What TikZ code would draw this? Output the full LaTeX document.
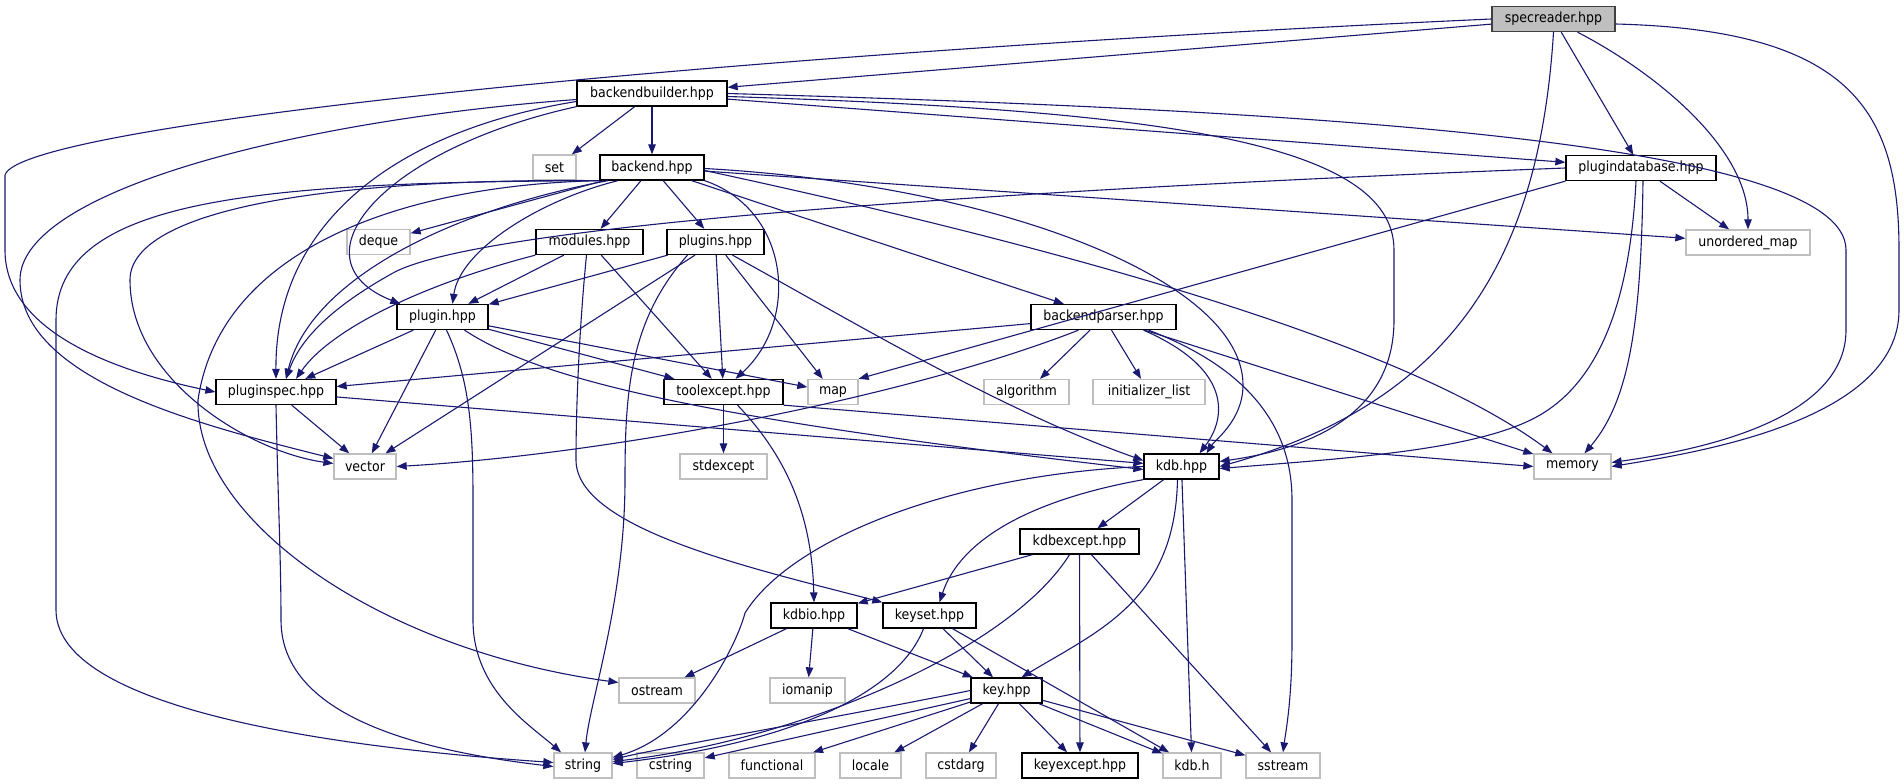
\documentclass[tikz,border=0pt]{standalone}
\usepackage{fontspec}
\setmainfont{DejaVu Sans Condensed}
\usetikzlibrary{arrows.meta}
\definecolor{edgeblue}{HTML}{191970}
\definecolor{extgray}{HTML}{BFBFBF}
\definecolor{rootgray}{HTML}{BFBFBF}
\definecolor{rootline}{HTML}{404040}

\begin{document}
\begin{tikzpicture}[x=1pt,y=-1pt,
    hdrbox/.style={line width=1.3pt, minimum height=25pt, inner sep=0pt,
      font=\fontsize{14}{16}\selectfont},
    docfile/.style={hdrbox, draw=black},
    extfile/.style={hdrbox, draw=extgray},
    rootfile/.style={hdrbox, draw=rootline, fill=rootgray},
    incl/.style={draw=edgeblue, line width=1.1pt,
      -{Triangle[length=10pt,width=7.5pt]}}]
          \useasboundingbox (0,0) rectangle (1904,784);

          % headers, row by row
          \node[rootfile, minimum width=123] (spec) at (1553.5,19) {specreader.hpp};
          \node[docfile, minimum width=150] (bbuild) at (652,93.5) {backendbuilder.hpp};
          \node[extfile, minimum width=43] (set) at (554.5,167.5) {set};
          \node[docfile, minimum width=104] (backend) at (652,167.5) {backend.hpp};
          \node[docfile, minimum width=150] (pdb) at (1641,168) {plugindatabase.hpp};
          \node[extfile, minimum width=63] (deque) at (378.5,242) {deque};
          \node[docfile, minimum width=107] (modules) at (589.5,242) {modules.hpp};
          \node[docfile, minimum width=97] (plugins) at (715.5,242) {plugins.hpp};
          \node[extfile, minimum width=124] (umap) at (1748,242.5) {unordered\_map};
          \node[docfile, minimum width=91] (plugin) at (442.5,317) {plugin.hpp};
          \node[docfile, minimum width=145] (bparser) at (1103.5,317) {backendparser.hpp};
          \node[docfile, minimum width=120] (pspec) at (276,392) {pluginspec.hpp};
          \node[docfile, minimum width=119] (toolex) at (723.5,392) {toolexcept.hpp};
          \node[extfile, minimum width=50] (map) at (833,392) {map};
          \node[extfile, minimum width=85] (algorithm) at (1026.5,392) {algorithm};
          \node[extfile, minimum width=112] (initlist) at (1149,392) {initializer\_list};
          \node[extfile, minimum width=62] (vector) at (365,466.5) {vector};
          \node[extfile, minimum width=87] (stdexcept) at (723.5,466.5) {stdexcept};
          \node[docfile, minimum width=75] (kdb) at (1181.5,466.5) {kdb.hpp};
          \node[extfile, minimum width=77] (memory) at (1572.5,466.5) {memory};
          \node[docfile, minimum width=119] (kdbexcept) at (1079.5,541.5) {kdbexcept.hpp};
          \node[docfile, minimum width=86] (kdbio) at (814,615.5) {kdbio.hpp};
          \node[docfile, minimum width=93] (keyset) at (929.5,615.5) {keyset.hpp};
          \node[extfile, minimum width=76] (ostream) at (657,690.5) {ostream};
          \node[extfile, minimum width=75] (iomanip) at (807.5,690.5) {iomanip};
          \node[docfile, minimum width=71] (key) at (1006.5,690.5) {key.hpp};
          \node[extfile, minimum width=58] (string) at (583,765.5) {string};
          \node[extfile, minimum width=67] (cstring) at (670.5,765.5) {cstring};
          \node[extfile, minimum width=86] (functional) at (772,765.5) {functional};
          \node[extfile, minimum width=61] (locale) at (870.5,765.5) {locale};
          \node[extfile, minimum width=70] (cstdarg) at (961,765.5) {cstdarg};
          \node[docfile, minimum width=116] (keyexcept) at (1080,765.5) {keyexcept.hpp};
          \node[extfile, minimum width=58] (kdbh) at (1192,765.5) {kdb.h};
          \node[extfile, minimum width=74] (sstream) at (1283,765.5) {sstream};

          % straight includes
          \foreach \a/\b in {spec/bbuild, spec/pdb, bbuild/set, bbuild/backend, bbuild/pdb,
            backend/deque, backend/modules, backend/plugins, backend/bparser, backend/umap,
            pdb/umap, modules/plugin, modules/toolex, plugins/plugin, plugins/vector,
            plugins/toolex, plugins/map, plugin/pspec, plugin/vector, plugin/map,
            plugin/toolex, pspec/vector, pspec/kdb, bparser/pspec, bparser/algorithm,
            bparser/initlist, bparser/memory, toolex/stdexcept, kdb/kdbexcept, kdb/kdbh,
            kdbexcept/kdbio, kdbexcept/keyexcept, kdbexcept/sstream, kdbio/ostream,
            kdbio/iomanip, kdbio/key, keyset/key, keyset/kdbh, key/cstring, key/functional,
            key/locale, key/cstdarg, key/keyexcept, key/kdbh, key/sstream}{
            \draw[incl] (\a) -- (\b);
          }
          \draw[incl] (pdb.south west) -- (map.north east);
          \draw[incl] (toolex.south east) -- (memory.west);

          % specreader.hpp
          \draw[incl] (spec.west) .. controls (700,55) and (20,125) .. (5,175) -- (5,250)
            .. controls (5,330) and (110,370) .. (pspec.west);
          \draw[incl] (spec.south) .. controls (1540,250) and (1460,400) .. (kdb.east);
          \draw[incl] ([xshift=24pt]spec.south) .. controls (1660,75) and (1748,150) .. (umap.north);
          \draw[incl] ([yshift=-5pt]spec.east) .. controls (1850,30) and (1899,110) .. (1899,250)
            -- (1899,310) .. controls (1899,420) and (1700,452) .. (memory.east);

          % backendbuilder.hpp
          \draw[incl] (bbuild.east) .. controls (1300,110) and (1846,140) .. (1846,250)
            -- (1846,330) .. controls (1846,420) and (1700,450) .. ([yshift=4pt]memory.east);
          \draw[incl] ([yshift=-3pt]bbuild.east) .. controls (1150,110) and (1394,140) .. (1394,250)
            -- (1394,320) .. controls (1394,420) and (1300,450) .. ([yshift=5pt]kdb.east);
          \draw[incl] ([yshift=-6pt]bbuild.west) .. controls (300,120) and (20,190) .. (20,280)
            .. controls (20,380) and (200,425) .. ([yshift=8pt]vector.west);
          \draw[incl] ([yshift=-8pt]bbuild.west) .. controls (400,130) and (275,220) .. (pspec.north);
          \draw[incl] (bbuild.south west) .. controls (380,150) and (290,260) .. ([xshift=4pt]plugin.north west);

          % backend.hpp
          \draw[incl] ([xshift=-34pt]backend.south) .. controls (540,200) and (460,250) .. ([xshift=10pt]plugin.north);
          \draw[incl] ([xshift=-44pt]backend.south) .. controls (450,210) and (310,280) .. ([xshift=10pt]pspec.north);
          \draw[incl] (backend.south west) .. controls (300,178) and (130,215) .. (130,280)
            .. controls (130,380) and (250,452) .. ([yshift=3pt]vector.west);
          \draw[incl] (backend.south west) .. controls (400,185) and (220,250) .. (198,400)
            .. controls (195,520) and (380,650) .. ([yshift=8pt]ostream.west);
          \draw[incl] (backend.south west) .. controls (250,182) and (56,200) .. (56,320) -- (56,610)
            .. controls (56,720) and (400,752) .. ([yshift=3pt]string.west);
          \draw[incl] (backend.south east) .. controls (790,210) and (800,320) .. ([xshift=12pt]toolex.north);
          \draw[incl] ([yshift=-3pt]backend.east) .. controls (1050,245) and (1400,340) .. ([xshift=-20pt]memory.north);
          \draw[incl] ([yshift=-1pt]backend.east) .. controls (1000,185) and (1243,280) .. (1243,385)
            .. controls (1243,420) and (1215,440) .. ([xshift=25pt]kdb.north);

          % plugindatabase.hpp
          \draw[incl] (pdb.west) .. controls (1000,190) and (480,225) .. (393,273)
            .. controls (330,308) and (300,340) .. ([xshift=10pt]pspec.north);
          \draw[incl] ([xshift=-5pt]pdb.south) .. controls (1630,300) and (1600,380) .. (1540,415)
            .. controls (1480,450) and (1350,458) .. ([yshift=-2pt]kdb.east);
          \draw[incl] ([xshift=2pt]pdb.south) .. controls (1641,320) and (1630,400) .. ([xshift=12pt]memory.north);

          % modules.hpp, plugins.hpp, plugin.hpp
          \draw[incl] (modules.south west) .. controls (420,285) and (330,330) .. ([xshift=20pt]pspec.north);
          \draw[incl] ([xshift=-3pt]modules.south) .. controls (580,320) and (576,400) .. (576,460)
            .. controls (576,530) and (760,570) .. (keyset.north west);
          \draw[incl] ([xshift=-28pt]plugins.south) .. controls (630,320) and (625,390) .. (625,480)
            .. controls (625,600) and (590,700) .. ([xshift=2pt]string.north);
          \draw[incl] ([xshift=17pt]plugins.south) .. controls (850,320) and (1000,410) .. ([yshift=6pt]kdb.west);
          \draw[incl] ([xshift=4pt]plugin.south) .. controls (470,380) and (473,430) .. (473,500) -- (473,620)
            .. controls (473,690) and (530,725) .. ([xshift=-22pt]string.north);
          \draw[incl] ([xshift=22pt]plugin.south) .. controls (540,380) and (700,418) .. ([yshift=-3pt]kdb.west);
          \draw[incl] (pspec.south) .. controls (278,500) and (281,560) .. (281,620)
            .. controls (281,720) and (430,752) .. ([yshift=-1pt]string.west);

          % backendparser.hpp, toolexcept.hpp
          \draw[incl] ([xshift=-25pt]bparser.south) .. controls (900,400) and (600,455) .. (vector.east);
          \draw[incl] ([xshift=40pt]bparser.south) .. controls (1235,370) and (1225,420) .. ([xshift=18pt]kdb.north);
          \draw[incl] ([xshift=45pt]bparser.south) .. controls (1240,365) and (1292,420) .. (1292,500) -- (1292,640)
            .. controls (1292,700) and (1286,730) .. (sstream.north);
          \draw[incl] ([xshift=14pt]toolex.south) .. controls (790,460) and (812,520) .. (kdbio.north);

          % kdb.hpp and below
          \draw[incl] (kdb.south west) .. controls (1030,500) and (960,540) .. ([xshift=10pt]keyset.north);
          \draw[incl] ([xshift=-4pt]kdb.south) .. controls (1175,600) and (1100,630) .. ([xshift=15pt]key.north);
          \draw[incl] (kdb.west) .. controls (950,475) and (790,540) .. (745,613)
            .. controls (735,650) and (690,735) .. ([yshift=8pt]string.east);
          \draw[incl] ([xshift=-10pt]kdbexcept.south) .. controls (1010,650) and (800,740) .. ([yshift=4pt]string.east);
          \draw[incl] ([xshift=-6pt]keyset.south) .. controls (900,690) and (800,742) .. ([yshift=2pt]string.east);
          \draw[incl] (key.west) .. controls (850,715) and (660,748) .. ([yshift=6pt]string.east);
        \end{tikzpicture}
\end{document}
